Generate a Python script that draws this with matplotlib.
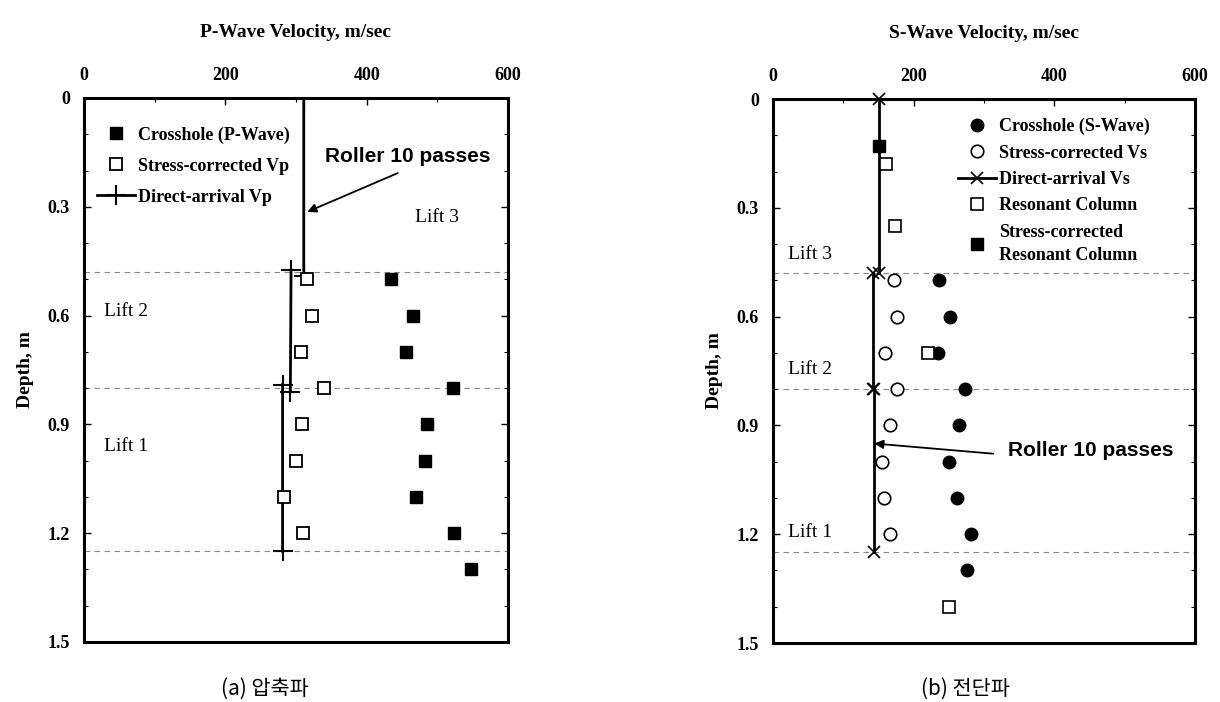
import numpy as np
import matplotlib.pyplot as plt
from matplotlib.ticker import MultipleLocator

# ---- data ----
depth_pts = [0.5, 0.6, 0.7, 0.8, 0.9, 1.0, 1.1, 1.2, 1.3]

# (a) P-wave
vp_crosshole = [435, 465, 456, 522, 485, 482, 470, 524, 547]
vp_stress = [316, 323, 307, 340, 309, 300, 283, 310]
vp_direct = [311, 311, np.nan, 293, 292, np.nan, 281, 281]
depth_direct_p = [0.0, 0.49, np.nan, 0.475, 0.81, np.nan, 0.79, 1.25]

# (b) S-wave
vs_crosshole = [236, 252, 235, 273, 265, 250, 262, 282, 276]
vs_stress = [172, 176, 159, 177, 167, 155, 158, 166]
vs_direct = [151, 151, np.nan, 142, 142, np.nan, 144, 144]
depth_direct_s = [0.0, 0.48, np.nan, 0.48, 0.80, np.nan, 0.80, 1.25]
rc_depth = [0.18, 0.35, 0.70, 1.40]
rc_vs = [160, 173, 220, 250]
rc_corr_depth = [0.13]
rc_corr_vs = [150]

lift_bounds = [0.48, 0.8, 1.25]

serif = 'Liberation Serif'

fig = plt.figure(figsize=(12.2, 7.02), dpi=100)
axL = fig.add_axes([84/1220, 1-642/702, 424/1220, 544/702])
axR = fig.add_axes([773/1220, 1-643/702, 422/1220, 544/702])


def style_axis(ax, title):
    ax.set_xlim(0, 600)
    ax.set_ylim(1.5, 0)
    ax.xaxis.set_major_locator(MultipleLocator(200))
    ax.xaxis.set_minor_locator(MultipleLocator(100))
    ax.yaxis.set_minor_locator(MultipleLocator(0.1))
    ax.xaxis.tick_top()
    ax.xaxis.set_label_position('top')
    ax.tick_params(which='both', direction='in', top=True, bottom=False,
                   left=True, right=True, labelsize=13)
    ax.tick_params(which='major', length=5, width=1)
    ax.tick_params(which='minor', length=3, width=0.8)
    ax.tick_params(axis='x', pad=10)
    ax.tick_params(axis='y', pad=10)
    ax.set_yticks([0, 0.3, 0.6, 0.9, 1.2, 1.5])
    ax.set_yticklabels(['0', '0.3', '0.6', '0.9', '1.2', '1.5'])
    for lab in ax.get_xticklabels() + ax.get_yticklabels():
        lab.set_fontfamily(serif)
        lab.set_fontweight('bold')
    for sp in ax.spines.values():
        sp.set_linewidth(2.2)
    ax.set_xlabel(title, fontfamily=serif, fontweight='bold', fontsize=14, labelpad=22)
    ax.set_ylabel('Depth, m', fontfamily=serif, fontweight='bold', fontsize=14, labelpad=10)
    for d in lift_bounds:
        ax.axhline(d, color='#888888', lw=0.8, ls=(0, (5, 4)), zorder=1)


leg_kw = dict(frameon=False, prop={'family': serif, 'weight': 'bold', 'size': 13},
              handlelength=2.15, handletextpad=0.15)
lift_kw = dict(fontfamily=serif, fontsize=14, va='center')
roller_kw = dict(fontfamily='Liberation Sans', fontweight='bold', fontsize=15,
                 ha='center', va='center')
arrow_kw = dict(arrowstyle='-|>', color='black', lw=1.3, shrinkA=0, shrinkB=0,
                mutation_scale=13)

# ---- (a) P-wave ----
style_axis(axL, 'P-Wave Velocity, m/sec')
axL.plot(vp_crosshole, depth_pts, ls='none', marker='s', ms=9, mfc='black', mec='black',
         label='Crosshole (P-Wave)', zorder=4)
axL.plot(vp_stress, depth_pts[:len(vp_stress)], ls='none', marker='s', ms=9, mfc='white',
         mec='black', mew=1.3, label='Stress-corrected Vp', zorder=4)
axL.plot(vp_direct, depth_direct_p, color='black', lw=2, marker='+', ms=14, mew=1.5,
         label='Direct-arrival Vp', zorder=3)
axL.legend(loc='upper left', bbox_to_anchor=(-0.0085, 0.978), labelspacing=0.78, **leg_kw)
axL.text(28, 0.59, 'Lift 2', **lift_kw)
axL.text(28, 0.96, 'Lift 1', **lift_kw)
axL.text(468, 0.33, 'Lift 3', **lift_kw)
axL.text(458, 0.162, 'Roller 10 passes', **roller_kw)
axL.annotate('', xy=(316, 0.314), xytext=(444, 0.207), arrowprops=arrow_kw)

# ---- (b) S-wave ----
style_axis(axR, 'S-Wave Velocity, m/sec')
axR.plot(vs_crosshole, depth_pts, ls='none', marker='o', ms=9, mfc='black', mec='black',
         label='Crosshole (S-Wave)', zorder=4)
axR.plot(vs_stress, depth_pts[:len(vs_stress)], ls='none', marker='o', ms=9, mfc='white',
         mec='black', mew=1.2, label='Stress-corrected Vs', zorder=4)
axR.plot(vs_direct, depth_direct_s, color='black', lw=2, marker='x', ms=9, mew=1.2,
         label='Direct-arrival Vs', zorder=3, clip_on=False)
axR.plot(rc_vs, rc_depth, ls='none', marker='s', ms=9, mfc='white', mec='black', mew=1.2,
         label='Resonant Column', zorder=4)
axR.plot(rc_corr_vs, rc_corr_depth, ls='none', marker='s', ms=9, mfc='black', mec='black',
         label='Stress-corrected\nResonant Column', zorder=5)
legR = axR.legend(loc='upper left', bbox_to_anchor=(0.399, 0.995), labelspacing=0.52, **leg_kw)
for t in legR.get_texts():
    t.set_linespacing(1.45)
axR.text(21, 0.43, 'Lift 3', **lift_kw)
axR.text(21, 0.745, 'Lift 2', **lift_kw)
axR.text(21, 1.195, 'Lift 1', **lift_kw)
axR.text(452, 0.97, 'Roller 10 passes', **roller_kw)
axR.annotate('', xy=(144, 0.95), xytext=(313, 0.978), arrowprops=arrow_kw)

# captions
fig.text(265/1220, 1-689/702, '(a) 압축파', fontfamily='Noto Sans CJK KR',
         fontsize=15, ha='center', va='center')
fig.text(965/1220, 1-689/702, '(b) 전단파', fontfamily='Noto Sans CJK KR',
         fontsize=15, ha='center', va='center')

fig.savefig('out.png', dpi=100)
